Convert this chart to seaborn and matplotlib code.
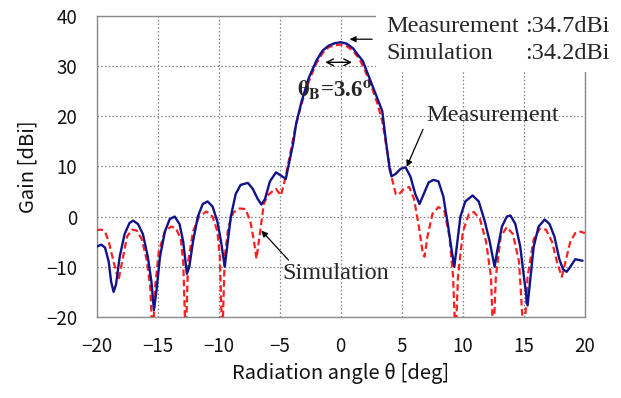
import numpy as np
import pandas as pd
import matplotlib
matplotlib.use("Agg")
import matplotlib.pyplot as plt
import seaborn as sns
from matplotlib.patches import Rectangle

# ---- data ----
meas_angle = [-20, -19.6, -19.3, -19.0, -18.8, -18.6, -18.4, -18.1, -17.7, -17.3, -17.0, -16.6, -16.2, -15.8,
              -15.5, -15.3, -15.1, -14.8, -14.4, -14.0, -13.6, -13.2, -12.9, -12.6, -12.4, -12.1, -11.7, -11.3,
              -10.9, -10.5, -10.1, -9.8, -9.5, -9.3, -9.0, -8.6, -8.2, -7.6, -7.2, -6.8, -6.5, -6.2, -5.8, -5.3,
              -4.8, -4.5, -4.2, -3.9, -3.65, -3.2, -2.6, -2.0, -1.5, -1.0, -0.5, 0.0, 0.5, 1.0, 1.4, 1.8, 2.2,
              2.6, 3.0, 3.4, 3.7, 4.0, 4.15, 4.5, 4.9, 5.3, 5.7, 6.1, 6.45, 6.8, 7.2, 7.6, 8.0, 8.4, 8.8, 9.1,
              9.3, 9.5, 9.8, 10.2, 10.8, 11.3, 11.8, 12.2, 12.6, 12.8, 13.2, 13.6, 13.9, 14.3, 14.7, 15.0, 15.3,
              15.5, 15.8, 16.2, 16.7, 17.1, 17.5, 17.9, 18.2, 18.5, 18.8, 19.2, 19.6, 19.8]
meas_gain = [-6.0, -5.6, -6.2, -9.0, -13.0, -15.0, -13.5, -8.0, -3.5, -1.3, -0.8, -1.5, -3.5, -8.0,
             -13.0, -18.6, -15.0, -8.0, -3.0, -0.5, 0.0, -1.5, -5.0, -11.4, -10.0, -5.0, 0.0, 2.5,
             3.0, 2.0, -1.0, -5.0, -10.0, -6.0, 0.0, 4.5, 6.3, 6.7, 5.5, 3.5, 2.4, 3.5, 7.0, 8.8,
             8.0, 7.5, 11.0, 14.5, 18.5, 23.0, 27.7, 31.0, 33.0, 34.0, 34.5, 34.7, 34.4, 33.5, 32.2, 31.0, 28.5,
             26.0, 23.5, 21.0, 15.0, 9.5, 8.0, 8.5, 9.5, 9.8, 8.0, 4.5, 2.5, 4.5, 6.8, 7.3, 7.0, 4.0, -2.0, -7.0,
             -10.0, -6.0, 0.0, 3.0, 4.2, 3.0, -1.0, -5.0, -10.0, -7.0, -2.0, 0.0, 0.2, -1.5, -6.0, -12.0, -17.7,
             -13.0, -6.0, -2.0, -0.6, -1.5, -4.0, -8.5, -10.5, -11.0, -10.0, -8.5, -8.7, -8.8]

sim_angle = [-20, -19.6, -19.3, -19.0, -18.6, -18.2, -17.9, -17.5, -17.1, -16.7, -16.3, -15.9, -15.6, -15.4,
             -15.2, -14.9, -14.4, -13.9, -13.5, -13.1, -12.9, -12.7, -12.5, -12.1, -11.6, -11.0, -10.5, -10.1,
             -9.9, -9.7, -9.5, -9.2, -8.8, -8.3, -7.8, -7.4, -7.1, -6.9, -6.6, -6.3, -6.0, -5.6, -5.3, -5.0,
             -4.9, -4.5, -4.1, -3.7, -3.2, -2.6, -2.0, -1.5, -1.0, -0.5, 0.0, 0.5, 1.0, 1.5, 2.0, 2.5, 3.0,
             3.4, 3.8, 4.2, 4.5, 4.7, 5.1, 5.6, 6.0, 6.4, 6.7, 6.86, 7.1, 7.5, 8.0, 8.5, 8.9, 9.2, 9.4, 9.6,
             10.0, 10.5, 10.9, 11.4, 11.9, 12.3, 12.5, 12.7, 13.1, 13.6, 14.1, 14.6, 15.0, 15.3, 15.8, 16.3,
             16.8, 17.3, 17.7, 18.1, 18.4, 18.8, 19.2, 19.6, 20.0]
sim_gain = [-2.7, -2.6, -3.0, -5.0, -9.0, -12.7, -9.0, -4.0, -2.6, -2.8, -4.5, -8.5, -14.0, -25,
            -14.0, -7.0, -3.0, -2.0, -2.3, -4.5, -9.0, -25, -9.0, -3.0, 0.0, 1.0, 0.0, -3.0,
            -8.0, -25, -8.0, -2.0, 0.8, 1.6, 1.5, -1.0, -5.0, -8.4, -3.0, 2.5, 4.2, 5.0, 5.5, 4.5,
            4.2, 8.0, 13.0, 18.0, 22.5, 27.0, 30.5, 32.5, 33.7, 34.1, 34.2, 33.9, 33.0, 31.5, 29.0, 26.0, 22.5,
            19.0, 13.0, 7.5, 4.5, 4.3, 5.3, 5.9, 3.5, -2.0, -7.0, -8.0, -4.0, 0.5, 1.9, 1.0, -4.0, -12.0, -25, -12.0,
            -3.0, 0.5, 0.9, -0.5, -5.0, -12.0, -25, -12.0, -4.0, -2.1, -3.5, -9.0, -25, -12.0, -4.5, -2.4,
            -2.6, -5.0, -9.0, -12.0, -9.0, -5.0, -3.3, -3.0, -3.3]

x_ticks = [-20, -15, -10, -5, 0, 5, 10, 15, 20]
y_ticks = [-20, -10, 0, 10, 20, 30, 40]

meas = pd.DataFrame({"angle": meas_angle, "gain": meas_gain})
sim = pd.DataFrame({"angle": sim_angle, "gain": sim_gain})

sns.set_style("white")
plt.rcParams["font.family"] = ["Noto Sans CJK JP", "DejaVu Sans"]
plt.rcParams["axes.unicode_minus"] = True
plt.rcParams["mathtext.fontset"] = "stix"

fig, ax = plt.subplots(figsize=(6.21, 3.98), dpi=100)
fig.subplots_adjust(left=0.1554, right=0.942, top=0.9608, bottom=0.2035)

sns.lineplot(data=sim, x="angle", y="gain", sort=False, ax=ax, color="#ff1f1f",
             linewidth=1.6, dashes=False, zorder=3)
ax.lines[-1].set_dashes([3, 1.6])
sns.lineplot(data=meas, x="angle", y="gain", sort=False, ax=ax, color="#12128a",
             linewidth=1.7, zorder=4)

ax.set_xlim(-20, 20)
ax.set_ylim(-20, 40)
ax.set_xticks(x_ticks)
ax.set_yticks(y_ticks)
ax.grid(True, linestyle=(0, (1.2, 1.8)), color="#808080", linewidth=0.9)
for s in ax.spines.values():
    s.set_color("#8c8c8c")
    s.set_linewidth(1.0)
ax.tick_params(direction="in", length=3, color="#8c8c8c", labelsize=13.5, pad=14, labelcolor="#111111")
ax.set_xlabel("Radiation angle θ [deg]", fontsize=14.5, labelpad=4, color="#111111")
ax.set_ylabel("Gain [dBi]", fontsize=14.5, labelpad=5, color="#111111")

serif = ["Liberation Serif", "DejaVu Serif"]
fs = 17.5
# white box behind the gain annotation
ax.add_patch(Rectangle((2.92, 28.7), 25, 20, facecolor="white", edgecolor="none",
                       clip_on=False, zorder=2.7))
ax.text(3.72, 37.8, "Measurement", family=serif, fontsize=fs, va="center", ha="left", zorder=5, clip_on=False)
ax.text(15.06, 37.8, ":34.7dBi", family=serif, fontsize=fs, va="center", ha="left", zorder=5, clip_on=False)
ax.text(3.72, 32.4, "Simulation", family=serif, fontsize=fs, va="center", ha="left", zorder=5, clip_on=False)
ax.text(15.06, 32.4, ":34.2dBi", family=serif, fontsize=fs, va="center", ha="left", zorder=5, clip_on=False)
ax.annotate("", xy=(0.5, 35.3), xytext=(2.8, 35.3),
            arrowprops=dict(arrowstyle="-|>", color="black", lw=0.9, mutation_scale=9), zorder=6)

# beam width
ax.annotate("", xy=(-1.5, 30.7), xytext=(1.15, 30.7),
            arrowprops=dict(arrowstyle="<->", color="black", lw=1.0, mutation_scale=12), zorder=6)
ax.text(-0.5, 25.3, r"$\mathbf{\theta}_{\mathbf{B}}$=3.6$^{\mathbf{o}}$", family=serif,
        fontweight="bold", fontsize=16.5, ha="center", va="center", zorder=6)

# labels with arrows
ax.annotate("Measurement", xy=(5.4, 9.9), xytext=(7.0, 20.1), family=serif, fontsize=fs,
            ha="left", va="center",
            arrowprops=dict(arrowstyle="-|>", color="black", lw=0.9, mutation_scale=9,
                            shrinkA=0, shrinkB=0, relpos=(0.0, 0.2)), zorder=6)
ax.annotate("Simulation", xy=(-6.5, -2.8), xytext=(-4.75, -11.4), family=serif, fontsize=fs,
            ha="left", va="center",
            arrowprops=dict(arrowstyle="-|>", color="black", lw=0.9, mutation_scale=9,
                            shrinkA=0, shrinkB=0, relpos=(0.1, 0.9)), zorder=6)

fig.savefig("out.png", dpi=100)
